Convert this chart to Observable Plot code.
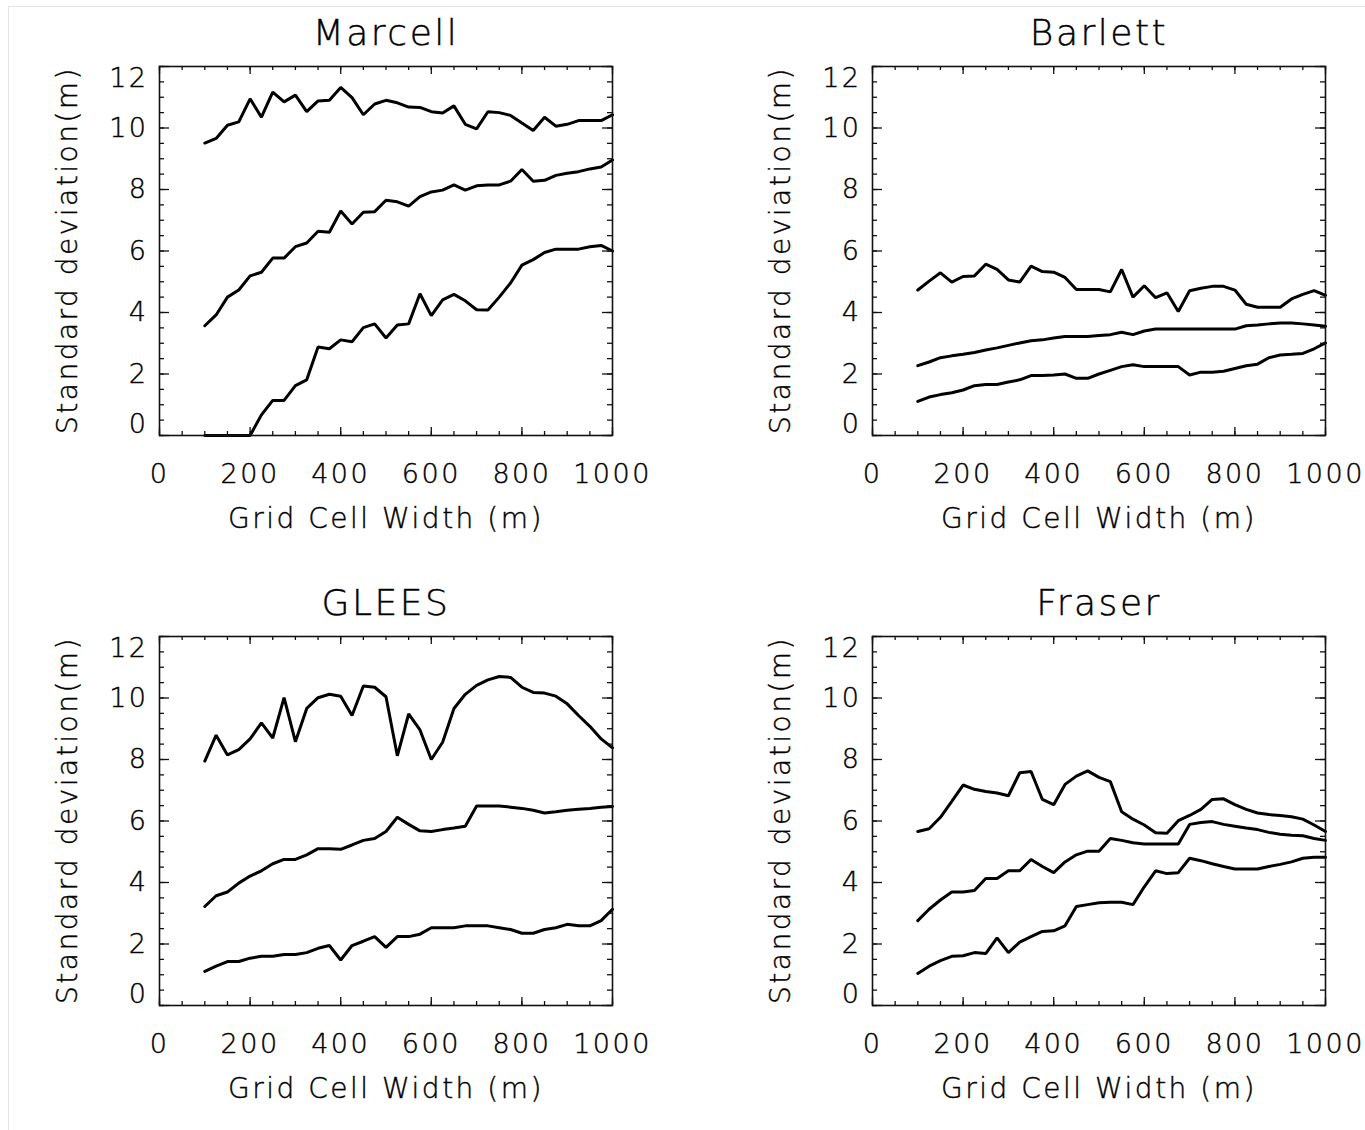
<!DOCTYPE html>
<html>
<head>
<meta charset="utf-8">
<script src="https://cdn.jsdelivr.net/npm/d3@7"></script>
<script src="https://cdn.jsdelivr.net/npm/@observablehq/plot@0.6"></script>
<style>
  html, body { margin: 0; padding: 0; background: #fff; }
  body { width: 1365px; height: 1130px; overflow: hidden; position: relative; font-family: "DejaVu Sans", sans-serif; }
  .panel { position: absolute; }
  .panel svg { overflow: visible; }
  .panel svg text { stroke: #000; stroke-width: 0.4px; }
  .border { position: absolute; left: 8px; top: 6px; width: 1400px; height: 1200px; border-left: 1px solid #e4e4e4; border-top: 1px solid #e4e4e4; }
</style>
</head>
<body>
<div class="border"></div>
<div id="p0" class="panel" style="left:0px;top:0px"></div>
<div id="p1" class="panel" style="left:713px;top:0px"></div>
<div id="p2" class="panel" style="left:0px;top:570px"></div>
<div id="p3" class="panel" style="left:713px;top:570px"></div>
<script>
// Grid cell widths (m)
const gridWidth = [100,125,150,175,200,225,250,275,300,325,350,375,400,425,450,475,500,525,550,575,600,625,650,675,700,725,750,775,800,825,850,875,900,925,950,975,1000];

const panelTitles = ["Marcell", "Barlett", "GLEES", "Fraser"];
const xTickLabels = [0, 200, 400, 600, 800, 1000];
const yTickLabels = [0, 2, 4, 6, 8, 10, 12];
const xLabel = "Grid Cell Width (m)";
const yLabel = "Standard deviation(m)";

// Marcell
const marcellHigh = [9.51,9.66,10.09,10.2,10.95,10.35,11.17,10.85,11.07,10.53,10.88,10.9,11.32,10.99,10.43,10.78,10.9,10.82,10.68,10.67,10.53,10.49,10.72,10.12,9.97,10.53,10.5,10.41,10.16,9.92,10.35,10.06,10.12,10.24,10.24,10.24,10.43];
const marcellMid  = [3.57,3.92,4.5,4.73,5.19,5.31,5.77,5.77,6.14,6.26,6.64,6.61,7.3,6.88,7.26,7.28,7.65,7.6,7.46,7.77,7.92,7.98,8.15,7.98,8.12,8.15,8.15,8.27,8.65,8.27,8.3,8.46,8.53,8.58,8.67,8.73,8.96];
const marcellLow  = [0,0,0,0,0,0.67,1.14,1.14,1.62,1.81,2.88,2.82,3.11,3.05,3.51,3.63,3.17,3.59,3.63,4.61,3.9,4.41,4.59,4.38,4.09,4.08,4.5,4.96,5.54,5.72,5.95,6.06,6.06,6.06,6.14,6.18,6.0];

// Barlett
const barlettHigh = [4.73,5.02,5.29,4.99,5.17,5.19,5.57,5.4,5.06,4.99,5.51,5.33,5.31,5.14,4.75,4.75,4.75,4.67,5.4,4.5,4.87,4.48,4.64,4.03,4.71,4.79,4.85,4.85,4.73,4.27,4.17,4.17,4.17,4.44,4.59,4.71,4.56];
const barlettMid  = [2.27,2.39,2.53,2.59,2.64,2.7,2.78,2.85,2.93,3.01,3.08,3.11,3.17,3.22,3.22,3.22,3.25,3.28,3.36,3.28,3.4,3.46,3.46,3.46,3.46,3.46,3.46,3.46,3.46,3.57,3.59,3.63,3.66,3.66,3.63,3.59,3.55];
const barlettLow  = [1.11,1.25,1.33,1.39,1.48,1.62,1.66,1.66,1.74,1.81,1.95,1.95,1.97,2.0,1.86,1.86,2.0,2.12,2.24,2.3,2.24,2.24,2.24,2.24,1.97,2.06,2.06,2.09,2.18,2.27,2.32,2.53,2.62,2.64,2.67,2.82,3.01];

// GLEES
const gleesHigh = [7.95,8.79,8.15,8.32,8.67,9.19,8.7,10.01,8.58,9.66,10.01,10.12,10.06,9.43,10.39,10.35,10.04,8.12,9.48,8.96,8.0,8.56,9.66,10.12,10.41,10.59,10.7,10.67,10.35,10.18,10.16,10.06,9.81,9.43,9.08,8.67,8.38];
const gleesMid  = [3.22,3.57,3.69,3.98,4.21,4.38,4.61,4.75,4.75,4.9,5.1,5.1,5.08,5.22,5.37,5.43,5.66,6.12,5.89,5.68,5.66,5.72,5.77,5.83,6.49,6.49,6.49,6.45,6.41,6.35,6.26,6.3,6.35,6.38,6.41,6.45,6.47];
const gleesLow  = [1.11,1.28,1.43,1.43,1.54,1.6,1.6,1.66,1.66,1.72,1.86,1.95,1.48,1.95,2.09,2.24,1.89,2.24,2.24,2.32,2.53,2.53,2.53,2.59,2.59,2.59,2.53,2.47,2.35,2.35,2.47,2.53,2.64,2.59,2.59,2.76,3.13];

// Fraser
const fraserHigh = [5.66,5.75,6.12,6.64,7.17,7.03,6.96,6.91,6.82,7.57,7.61,6.7,6.53,7.19,7.46,7.63,7.42,7.28,6.3,6.06,5.87,5.62,5.6,6.01,6.18,6.38,6.7,6.72,6.53,6.38,6.26,6.21,6.18,6.14,6.06,5.87,5.66];
const fraserMid  = [2.76,3.13,3.43,3.69,3.69,3.74,4.13,4.13,4.38,4.38,4.75,4.52,4.32,4.67,4.9,5.02,5.02,5.43,5.37,5.29,5.25,5.25,5.25,5.25,5.89,5.95,5.98,5.89,5.83,5.77,5.72,5.63,5.57,5.54,5.52,5.43,5.37];
const fraserLow  = [1.04,1.28,1.46,1.6,1.62,1.72,1.69,2.2,1.72,2.06,2.24,2.41,2.43,2.59,3.22,3.28,3.34,3.36,3.36,3.28,3.86,4.38,4.29,4.32,4.79,4.71,4.61,4.52,4.44,4.44,4.44,4.52,4.59,4.67,4.79,4.82,4.82];

const panelSeries = [
  [marcellHigh, marcellMid, marcellLow],
  [barlettHigh, barlettMid, barlettLow],
  [gleesHigh, gleesMid, gleesLow],
  [fraserHigh, fraserMid, fraserLow]
];

const xMinor = d3.range(0, 1001, 50);
const yMinor = d3.range(0, 12.001, 0.5);

const FW = 453, FH = 369;
const mL = 159, mR = 40, mT = 66, mB = 110;
const ink = "#111";
const fontFam = "'DejaVu Sans ExtraLight', 'DejaVu Sans', sans-serif";

function makePanel(title, seriesList) {
  const rows = [];
  seriesList.forEach((vals, si) => {
    vals.forEach((v, i) => rows.push({x: gridWidth[i], y: v, s: si}));
  });
  return Plot.plot({
    width: mL + FW + mR,
    height: mT + FH + mB,
    marginLeft: mL, marginRight: mR, marginTop: mT, marginBottom: mB,
    x: {type: "linear", domain: [0, 1000], label: null},
    y: {type: "linear", domain: [0, 12], label: null},
    style: {fontFamily: fontFam, fontWeight: 200, fontSize: "27px", color: "#000", background: "transparent", letterSpacing: "2.5px"},
    marks: [
      // data lines
      Plot.line(rows, {x: "x", y: "y", z: "s", stroke: "#000", strokeWidth: 3, strokeLinejoin: "miter"}),
      // minor & major ticks (inside the box, all four sides)
      Plot.tickX(xMinor, {x: d => d, insetTop: FH - 4, stroke: ink, strokeWidth: 1.3}),
      Plot.tickX(xMinor, {x: d => d, insetBottom: FH - 4, stroke: ink, strokeWidth: 1.3}),
      Plot.tickX(xTickLabels, {x: d => d, insetTop: FH - 8, stroke: ink, strokeWidth: 1.3}),
      Plot.tickX(xTickLabels, {x: d => d, insetBottom: FH - 8, stroke: ink, strokeWidth: 1.3}),
      Plot.tickY(yMinor, {y: d => d, insetRight: FW - 5, stroke: ink, strokeWidth: 1.3}),
      Plot.tickY(yMinor, {y: d => d, insetLeft: FW - 5, stroke: ink, strokeWidth: 1.3}),
      Plot.tickY(yTickLabels, {y: d => d, insetRight: FW - 10, stroke: ink, strokeWidth: 1.3}),
      Plot.tickY(yTickLabels, {y: d => d, insetLeft: FW - 10, stroke: ink, strokeWidth: 1.3}),
      Plot.frame({stroke: ink, strokeWidth: 1.6}),
      // tick labels
      Plot.axisX({ticks: xTickLabels, tickSize: 0, tickPadding: 28, tickFormat: d => String(d), label: null, fill: "#000"}),
      Plot.axisY({ticks: yTickLabels.filter(d => d > 0 && d < 12), tickSize: 0, tickPadding: 11, tickFormat: d => String(d), label: null, fill: "#000"}),
      Plot.axisY({ticks: [0], tickSize: 0, tickPadding: 11, dy: -11, tickFormat: d => String(d), label: null, fill: "#000"}),
      Plot.axisY({ticks: [12], tickSize: 0, tickPadding: 11, dy: 12, tickFormat: d => String(d), label: null, fill: "#000"}),
      // titles
      Plot.text([title], {frameAnchor: "top", lineAnchor: "middle", dy: -33, fontSize: 36, fill: "#000", letterSpacing: "1.5px"}),
      Plot.text([xLabel], {frameAnchor: "bottom", lineAnchor: "middle", dy: 84, fontSize: 28, fill: "#000", letterSpacing: "3.2px"}),
      Plot.text([yLabel], {frameAnchor: "left", textAnchor: "middle", lineAnchor: "middle", dx: -91, dy: -1, rotate: -90, fontSize: 28, fill: "#000", letterSpacing: "3.3px"})
    ]
  });
}

panelTitles.forEach((t, i) => {
  document.getElementById("p" + i).appendChild(makePanel(t, panelSeries[i]));
});
</script>
</body>
</html>
